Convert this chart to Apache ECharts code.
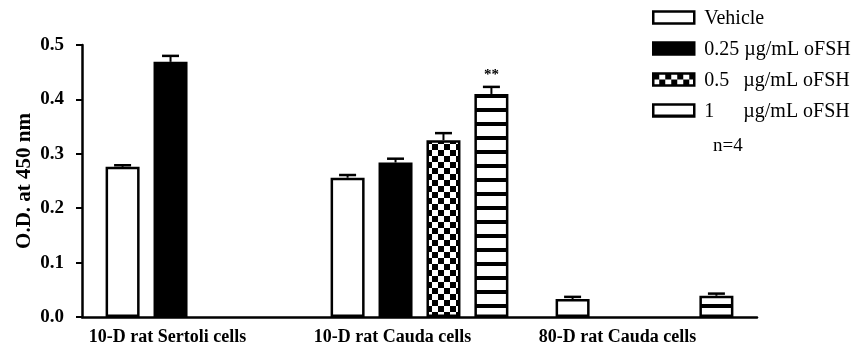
<!DOCTYPE html>
<html><head><meta charset="utf-8">
<script src="https://cdn.jsdelivr.net/npm/echarts@6/dist/echarts.min.js"></script>
<style>html,body{margin:0;padding:0;background:#fff}#c{width:854px;height:349px}</style>
</head><body><div id="c"></div>
<script>
const categories = ['10-D rat Sertoli cells', '10-D rat Cauda cells', '80-D rat Cauda cells'];
const seriesNames = ['Vehicle', '0.25 µg/mL oFSH', '0.5 µg/mL oFSH', '1 µg/mL oFSH'];
const vehicle = [0.276, 0.256, 0.033];
const dose025 = [0.469, 0.284, '-'];
const dose05 = ['-', 0.325, '-'];
const dose1 = ['-', 0.410, 0.039];
const errVehicle = [0.003, 0.005, 0.004];
const err025 = [0.011, 0.007, '-'];
const err05 = ['-', 0.013, '-'];
const err1 = ['-', 0.013, 0.004];
const significance = [['', '', ''], ['', '', ''], ['', '', ''], ['', '**', '']];
const yTicks = [0, 0.1, 0.2, 0.3, 0.4, 0.5];
const noteText = 'n=4';

const FONT = 'Liberation Serif';
const BW = 34, GAP = 0.41, SLOT = BW * (1 + GAP);

function makeChecker() {
  const c = document.createElement('canvas'); c.width = 12; c.height = 12;
  const x = c.getContext('2d');
  x.fillStyle = '#fff'; x.fillRect(0, 0, 12, 12);
  x.fillStyle = '#000'; x.fillRect(0, 0, 6, 6); x.fillRect(6, 6, 6, 6);
  return c;
}
function makeStripes() {
  const c = document.createElement('canvas'); c.width = 8; c.height = 14;
  const x = c.getContext('2d');
  x.fillStyle = '#fff'; x.fillRect(0, 0, 8, 14);
  x.fillStyle = '#000'; x.fillRect(0, 10, 8, 4);
  return c;
}
const fills = ['#ffffff', '#000000', { image: makeChecker(), repeat: 'repeat' }, { image: makeStripes(), repeat: 'repeat' }];
const values = [vehicle, dose025, dose05, dose1];
const errs = [errVehicle, err025, err05, err1];

const series = values.map((v, i) => ({
  name: seriesNames[i], type: 'bar', data: v, barWidth: BW, barGap: (GAP * 100) + '%',
  itemStyle: { color: fills[i], borderColor: '#000', borderWidth: 2.5 },
  emphasis: { disabled: true }, z: 2
}));

const errData = [];
values.forEach((v, i) => v.forEach((val, j) => {
  if (val !== '-' && errs[i][j] !== '-') errData.push([j, val, errs[i][j], i, significance[i][j]]);
}));

series.push({
  type: 'custom', name: 'err', z: 3, silent: true,
  data: errData.map(d => d.slice(0, 4)),
  renderItem: function (params, api) {
    const d = errData[params.dataIndex];
    const top = api.coord([d[0], d[1] + d[2]]);
    const base = api.coord([d[0], d[1]]);
    const x = top[0] + (d[3] - 1.5) * SLOT;
    const children = [
      { type: 'line', shape: { x1: x, y1: base[1], x2: x, y2: top[1] }, style: { stroke: '#000', lineWidth: 2 } },
      { type: 'line', shape: { x1: x - 8.5, y1: top[1], x2: x + 8.5, y2: top[1] }, style: { stroke: '#000', lineWidth: 2.5 } }
    ];
    if (d[4]) children.push({ type: 'text', x: x, y: top[1] - 4, style: { text: d[4], fill: '#000', font: 'bold 15px ' + FONT, textAlign: 'center', textVerticalAlign: 'bottom' } });
    return { type: 'group', children: children };
  }
});

const chart = echarts.init(document.getElementById('c'), null, { renderer: 'canvas' });
chart.setOption({
  animation: false,
  backgroundColor: '#fff',
  grid: { left: 82, right: 97, top: 45, bottom: 32, containLabel: false },
  legend: {
    orient: 'vertical', left: 652, top: 9, padding: 0, itemWidth: 41, itemHeight: 12, itemGap: 11,
    icon: 'rect',
    data: seriesNames, selectedMode: false,
    itemStyle: { borderColor: '#000', borderWidth: 2.5 },
    textStyle: {
      fontFamily: FONT, fontSize: 20, color: '#000', padding: [3, 0, 0, 5],
      rich: { a: { fontFamily: FONT, fontSize: 20, color: '#000', width: 39 }, b: { fontFamily: FONT, fontSize: 20, color: '#000' } }
    },
    formatter: function (n) {
      const p = n.split(' ');
      if (p[0] === '0.25') return '{b|' + n + '}';
      if (p.length === 3) return '{a|' + p[0] + '}{b|' + p[1] + ' ' + p[2] + '}';
      return '{b|' + n + '}';
    }
  },
  graphic: [{ type: 'text', left: 713, top: 137, style: { text: noteText, font: '19px ' + FONT, fill: '#000' } }],
  xAxis: {
    type: 'category', data: categories,
    axisLine: { lineStyle: { color: '#000', width: 2.5 } },
    axisTick: { alignWithLabel: true, length: 5, lineStyle: { color: '#000', width: 2 } },
    axisLabel: { fontFamily: FONT, fontWeight: 'bold', fontSize: 18, color: '#000', margin: 11, padding: [0, 54, 0, 0] }
  },
  yAxis: {
    type: 'value', min: yTicks[0], max: yTicks[yTicks.length - 1], interval: 0.1,
    name: 'O.D. at 450 nm', nameLocation: 'middle', nameGap: 47, nameMoveOverlap: false,
    nameTextStyle: { fontFamily: FONT, fontWeight: 'bold', fontSize: 21, color: '#000' },
    axisLine: { show: true, lineStyle: { color: '#000', width: 2.5 } },
    axisTick: { show: true, length: 6, lineStyle: { color: '#000', width: 2 } },
    splitLine: { show: false },
    axisLabel: { fontFamily: FONT, fontWeight: 'bold', fontSize: 19, color: '#000', margin: 18, formatter: v => v.toFixed(1) }
  },
  series: series
});
</script></body></html>
